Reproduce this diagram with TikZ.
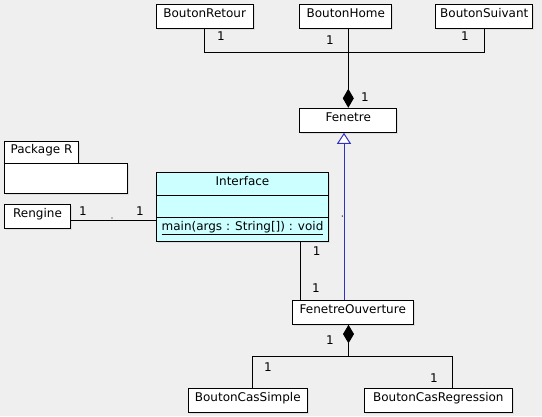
\documentclass[tikz,border=0pt]{standalone}
\usepackage{fontspec}
\setmainfont{DejaVu Sans}
\usetikzlibrary{arrows.meta}
\definecolor{bg}{RGB}{239,239,239}
\definecolor{shade}{RGB}{222,222,222}
\definecolor{genblue}{RGB}{50,50,190}
\definecolor{ifacecyan}{RGB}{204,255,255}

\begin{document}
\begin{tikzpicture}[x=1pt,y=-1pt,
  font=\fontsize{12}{14}\selectfont,
  line width=1pt,
  umlbox/.style={draw=black, fill=white, inner sep=0pt, line width=1pt,
    text height=9pt, text depth=7pt,
    preaction={fill=shade, transform canvas={shift={(1.5pt,-1.5pt)}}}},
  iface/.style={umlbox, fill=ifacecyan},
  mult/.style={inner sep=0pt},
  link/.style={draw=black, line width=1pt},
  compo/.style={link, -{Diamond[length=19pt,width=11pt]}},
  generalize/.style={draw=genblue, line width=1pt, -{Triangle[length=11pt,width=14pt,fill=white]}},
]
% canvas
\fill[bg] (0,0) rectangle (542,416);
\useasboundingbox (0,0) rectangle (542,416);

% top row of buttons
\node[umlbox, minimum width=97pt, minimum height=24pt] (retour) at (204.7,16.3) {BoutonRetour};
\node[umlbox, minimum width=91.7pt, minimum height=24pt] (home) at (345.8,16.3) {BoutonHome};
\node[umlbox, minimum width=96.7pt, minimum height=24pt] (suivant) at (484.3,16.3) {BoutonSuivant};

% window classes
\node[umlbox, minimum width=96.7pt, minimum height=24pt] (fenetre) at (348.3,120.3) {Fenetre};
\node[umlbox, minimum width=121pt, minimum height=24pt] (ouverture) at (352.8,312.3) {FenetreOuverture};

% package R
\node[umlbox, minimum width=74.4pt, minimum height=22.3pt] (pkgtab) at (41.5,152.2) {Package R};
\node[umlbox, minimum width=123pt, minimum height=30pt] (pkgbody) at (65.8,178.3) {};

% Rengine
\node[umlbox, minimum width=66.4pt, minimum height=24pt] (rengine) at (37.5,216.3) {Rengine};

% Interface class with three compartments
\node[iface, minimum width=171.6pt, minimum height=22.6pt] (ifname) at (242.5,184) {Interface};
\node[iface, minimum width=171.6pt, minimum height=22pt] (ifattr) at (242.5,206.3) {};
\node[iface, minimum width=171.6pt, minimum height=23.7pt] (ifmeth) at (242.5,229.2) {\underline{main(args : String[]) : void}};

% bottom buttons
\node[umlbox, minimum width=119pt, minimum height=24pt] (simple) at (247.8,400.3) {BoutonCasSimple};
\node[umlbox, minimum width=148pt, minimum height=24pt] (regression) at (438.3,400.3) {BoutonCasRegression};

% routing helpers
\coordinate (topbar) at (0,52);
\coordinate (gx) at (344,0);
\coordinate (ix) at (300.3,0);
\coordinate (ry) at (0,220);
\coordinate (lbar) at (0,356);
\coordinate (dx) at (348.5,0);
\coordinate (cx1) at (252.3,0);
\coordinate (cx2) at (452.3,0);

% composition: buttons in Fenetre
\draw[link] (retour.south) |- (topbar -| suivant.south) -- (suivant.south);
\draw[compo] (home.south -| fenetre.north) -- (fenetre.north);

% generalization
\draw[generalize] (ouverture.north -| gx) -- (fenetre.south -| gx);

% associations
\draw[link] (ifmeth.south -| ix) -- (ouverture.north -| ix);
\draw[link] (rengine.east |- ry) -- (ifmeth.west |- ry);

% composition: case buttons in FenetreOuverture
\draw[compo, -{Diamond[length=18.5pt,width=11pt]}] (lbar -| dx) -- (ouverture.south -| dx);
\draw[link] (simple.north -| cx1) |- (lbar -| cx2) -- (regression.north -| cx2);

% empty association names
\fill (112,218) circle (0.7);
\fill (342.3,216) circle (0.7);

% multiplicities
\node[mult] (m1) at (221,36) {1};
\node[mult] (m2) at (330,40) {1};
\node[mult] (m3) at (465,36) {1};
\node[mult] (m4) at (365,97) {1};
\node[mult] (m5) at (316.7,251) {1};
\node[mult] (m6) at (316,288) {1};
\node[mult] (m7) at (83,211) {1};
\node[mult] (m8) at (140,211) {1};
\node[mult] (m9) at (330,340) {1};
\node[mult] (m10) at (268,367) {1};
\node[mult] (m11) at (434,378) {1};
\end{tikzpicture}
\end{document}
